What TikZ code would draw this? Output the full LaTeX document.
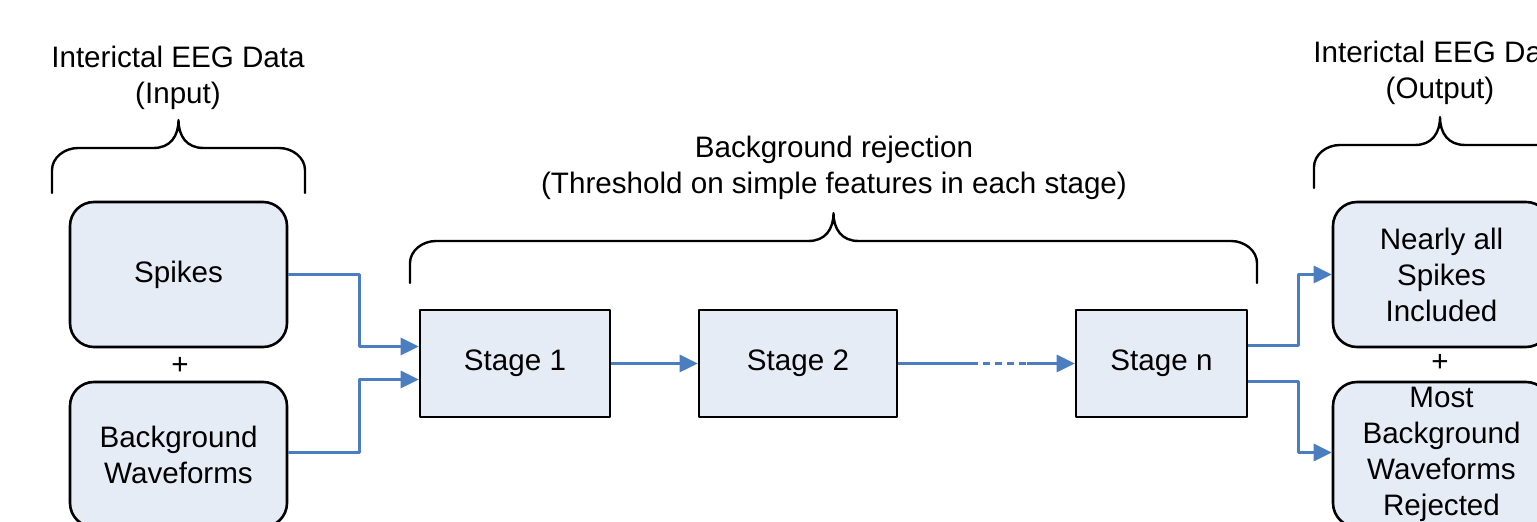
\documentclass[tikz,border=0pt]{standalone}
\usepackage{fontspec}
\setmainfont{Liberation Sans}
\usetikzlibrary{arrows.meta}
\definecolor{boxfill}{RGB}{230,236,246}
\definecolor{flowblue}{RGB}{74,126,193}

% curly bracket opening downwards: left x, right x, tip y, end y
\newcommand{\groupbrace}[4]{%
  \draw[brace] (#1,#4) -- (#1,#3+50)
    .. controls (#1,#3+38) and (#1+12,#3+28) .. (#1+26,#3+28)
    -- ({(#1+#2)/2-25},#3+28)
    .. controls ({(#1+#2)/2-8},#3+28) and ({(#1+#2)/2},#3+16) .. ({(#1+#2)/2},#3)
    .. controls ({(#1+#2)/2},#3+16) and ({(#1+#2)/2+8},#3+28) .. ({(#1+#2)/2+25},#3+28)
    -- (#2-26,#3+28)
    .. controls (#2-12,#3+28) and (#2,#3+38) .. (#2,#3+50) -- (#2,#4);}

\begin{document}
\begin{tikzpicture}[x=0.5pt,y=-0.5pt,line cap=round,line join=round,
  font=\fontsize{14.8}{18}\selectfont,
  databox/.style={draw,line width=1.3pt,fill=boxfill,rounded corners=12pt,
    minimum width=108.5pt,minimum height=72.5pt,align=center,inner sep=0pt},
  stagebox/.style={draw,line width=1.3pt,fill=boxfill,
    minimum height=53.5pt,inner sep=0pt},
  label/.style={align=center,inner sep=0pt},
  brace/.style={line width=1.2pt},
  link/.style={flowblue,line width=1.4pt,line cap=butt},
  flow/.style={link,-{Triangle[length=9pt,width=8.5pt]}}]
  \clip (0,0) rectangle (1537,522);

  % input side
  \node[label] (inlabel) at (178,78) {Interictal EEG Data\\(Input)};
  \groupbrace{52}{305}{120}{193}
  \node[databox] (spk) at (178.5,274.5) {Spikes};
  \node[label] (inplus) at (180,366) {+};
  \node[databox] (bgw) at (178.5,454.5) {Background\\Waveforms};

  % cascade of stages
  \node[label] (rejlabel) at (834,168) {Background rejection\\(Threshold on simple features in each stage)};
  \groupbrace{410}{1257}{213}{283}
  \node[stagebox,minimum width=95pt] (s1) at (515,363.5) {Stage 1};
  \node[stagebox,minimum width=99pt] (s2) at (798,363.5) {Stage 2};
  \node[stagebox,minimum width=85.5pt] (sn) at (1161.5,363.5) {Stage n};

  % output side
  \node[label] (outlabel) at (1440,73) {Interictal EEG Data\\(Output)};
  \groupbrace{1314}{1566}{117}{188}
  \node[databox] (kept) at (1441.5,274.5) {Nearly all\\Spikes\\Included};
  \node[label] (outplus) at (1440,363) {+};
  \node[databox] (rej) at (1441.5,454.5) {Most\\Background\\Waveforms\\Rejected};

  % connectors
  \draw[flow] (spk.east) -- ++(71,0) |- ([yshift=8.5pt]s1.west);
  \draw[flow] ([yshift=1pt]bgw.east) -- ++(71,0) |- ([yshift=-8pt]s1.west);
  \draw[flow] (s1) -- (s2);
  \draw[link] (s2.east) -- ++(73,0) coordinate (dot1);
  \draw[link,dash pattern=on 3.5pt off 2.5pt] (dot1) -- ++(56,0) coordinate (dot2);
  \draw[flow] (dot2) -- (sn.west);
  \draw[flow] ([yshift=9pt]sn.east) -- ++(50,0) |- (kept.west);
  \draw[flow] ([yshift=-9pt]sn.east) -- ++(50,0) |- ([yshift=1pt]rej.west);
\end{tikzpicture}
\end{document}
